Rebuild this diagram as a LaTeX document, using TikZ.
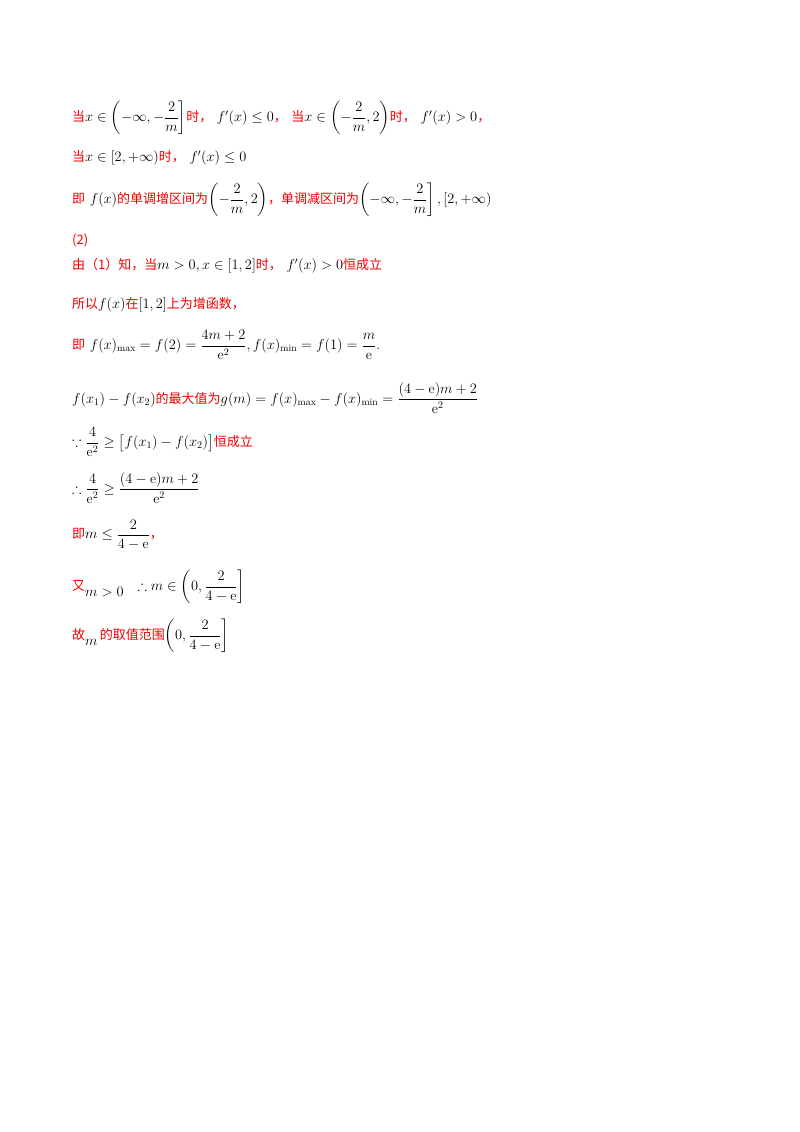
\documentclass[tikz,border=0pt]{standalone}
\usepackage{fontspec}
\usepackage{amsmath,amssymb}
\newfontfamily\cjk{Noto Sans CJK SC}
\definecolor{rd}{RGB}{240,0,0}
\newcommand{\zh}[1]{\textcolor{rd}{\fontsize{13}{15}\selectfont\cjk #1}}
\begin{document}
\begin{tikzpicture}[x=1pt,y=-1pt,line/.style={anchor=west,inner sep=0pt,font=\fontsize{14}{16}\selectfont}]
\useasboundingbox (0,0) rectangle (800,1132);
\fill[white] (0,0) rectangle (800,1132);
\node[line] (l1) at (72,118) {\zh{当}$x\in\left(-\infty,-\dfrac{2}{m}\right]$\zh{时，}\ $f'(x)\le 0$\zh{，}\ \zh{当}$x\in\left(-\dfrac{2}{m},2\right)$\zh{时，}\ $f'(x)>0$\zh{，}};
\node[line] (l2) at (72,158) {\zh{当}$x\in[2,+\infty)$\zh{时，}\ $f'(x)\le 0$};
\node[line] (l3) at (72,200) {\zh{即}\ $f(x)$\zh{的单调增区间为}$\left(-\dfrac{2}{m},2\right)$\zh{，单调减区间为}$\left(-\infty,-\dfrac{2}{m}\right],[2,+\infty)$};
\node[line] (l4) at (72,240) {\textcolor{rd}{\fontsize{13}{15}\selectfont\cjk (2)}};
\node[line] (l5) at (72,266) {\zh{由（1）知，当}$m>0,x\in[1,2]$\zh{时，}\ $f'(x)>0$\zh{恒成立}};
\node[line] (l6) at (72,305) {\zh{所以}$f(x)$\zh{在}$[1,2]$\zh{上为增函数，}};
\node[line] (l7) at (72,345) {\zh{即}\ $f(x)_{\max}=f(2)=\dfrac{4m+2}{\mathrm{e}^2},f(x)_{\min}=f(1)=\dfrac{m}{\mathrm{e}}$.};
\node[line] (l8) at (72,398) {$f(x_1)-f(x_2)$\zh{的最大值为}$g(m)=f(x)_{\max}-f(x)_{\min}=\dfrac{(4-\mathrm{e})m+2}{\mathrm{e}^2}$};
\node[line] (l9) at (72,442) {$\because\dfrac{4}{\mathrm{e}^2}\ge\bigl[f(x_1)-f(x_2)\bigr]$\zh{恒成立}};
\node[line] (l10) at (72,488) {$\therefore\dfrac{4}{\mathrm{e}^2}\ge\dfrac{(4-\mathrm{e})m+2}{\mathrm{e}^2}$};
\node[line] (l11) at (72,535) {\zh{即}$m\le\dfrac{2}{4-\mathrm{e}}$\zh{，}};
\node[line] (l12) at (72,587) {\zh{又}\raisebox{-6pt}{$m>0$}\quad $\therefore m\in\left(0,\dfrac{2}{4-\mathrm{e}}\right]$};
\node[line] (l13) at (72,636) {\zh{故}\raisebox{-6pt}{$m$}\,\zh{的取值范围}$\left(0,\dfrac{2}{4-\mathrm{e}}\right]$};
\end{tikzpicture}
\end{document}
